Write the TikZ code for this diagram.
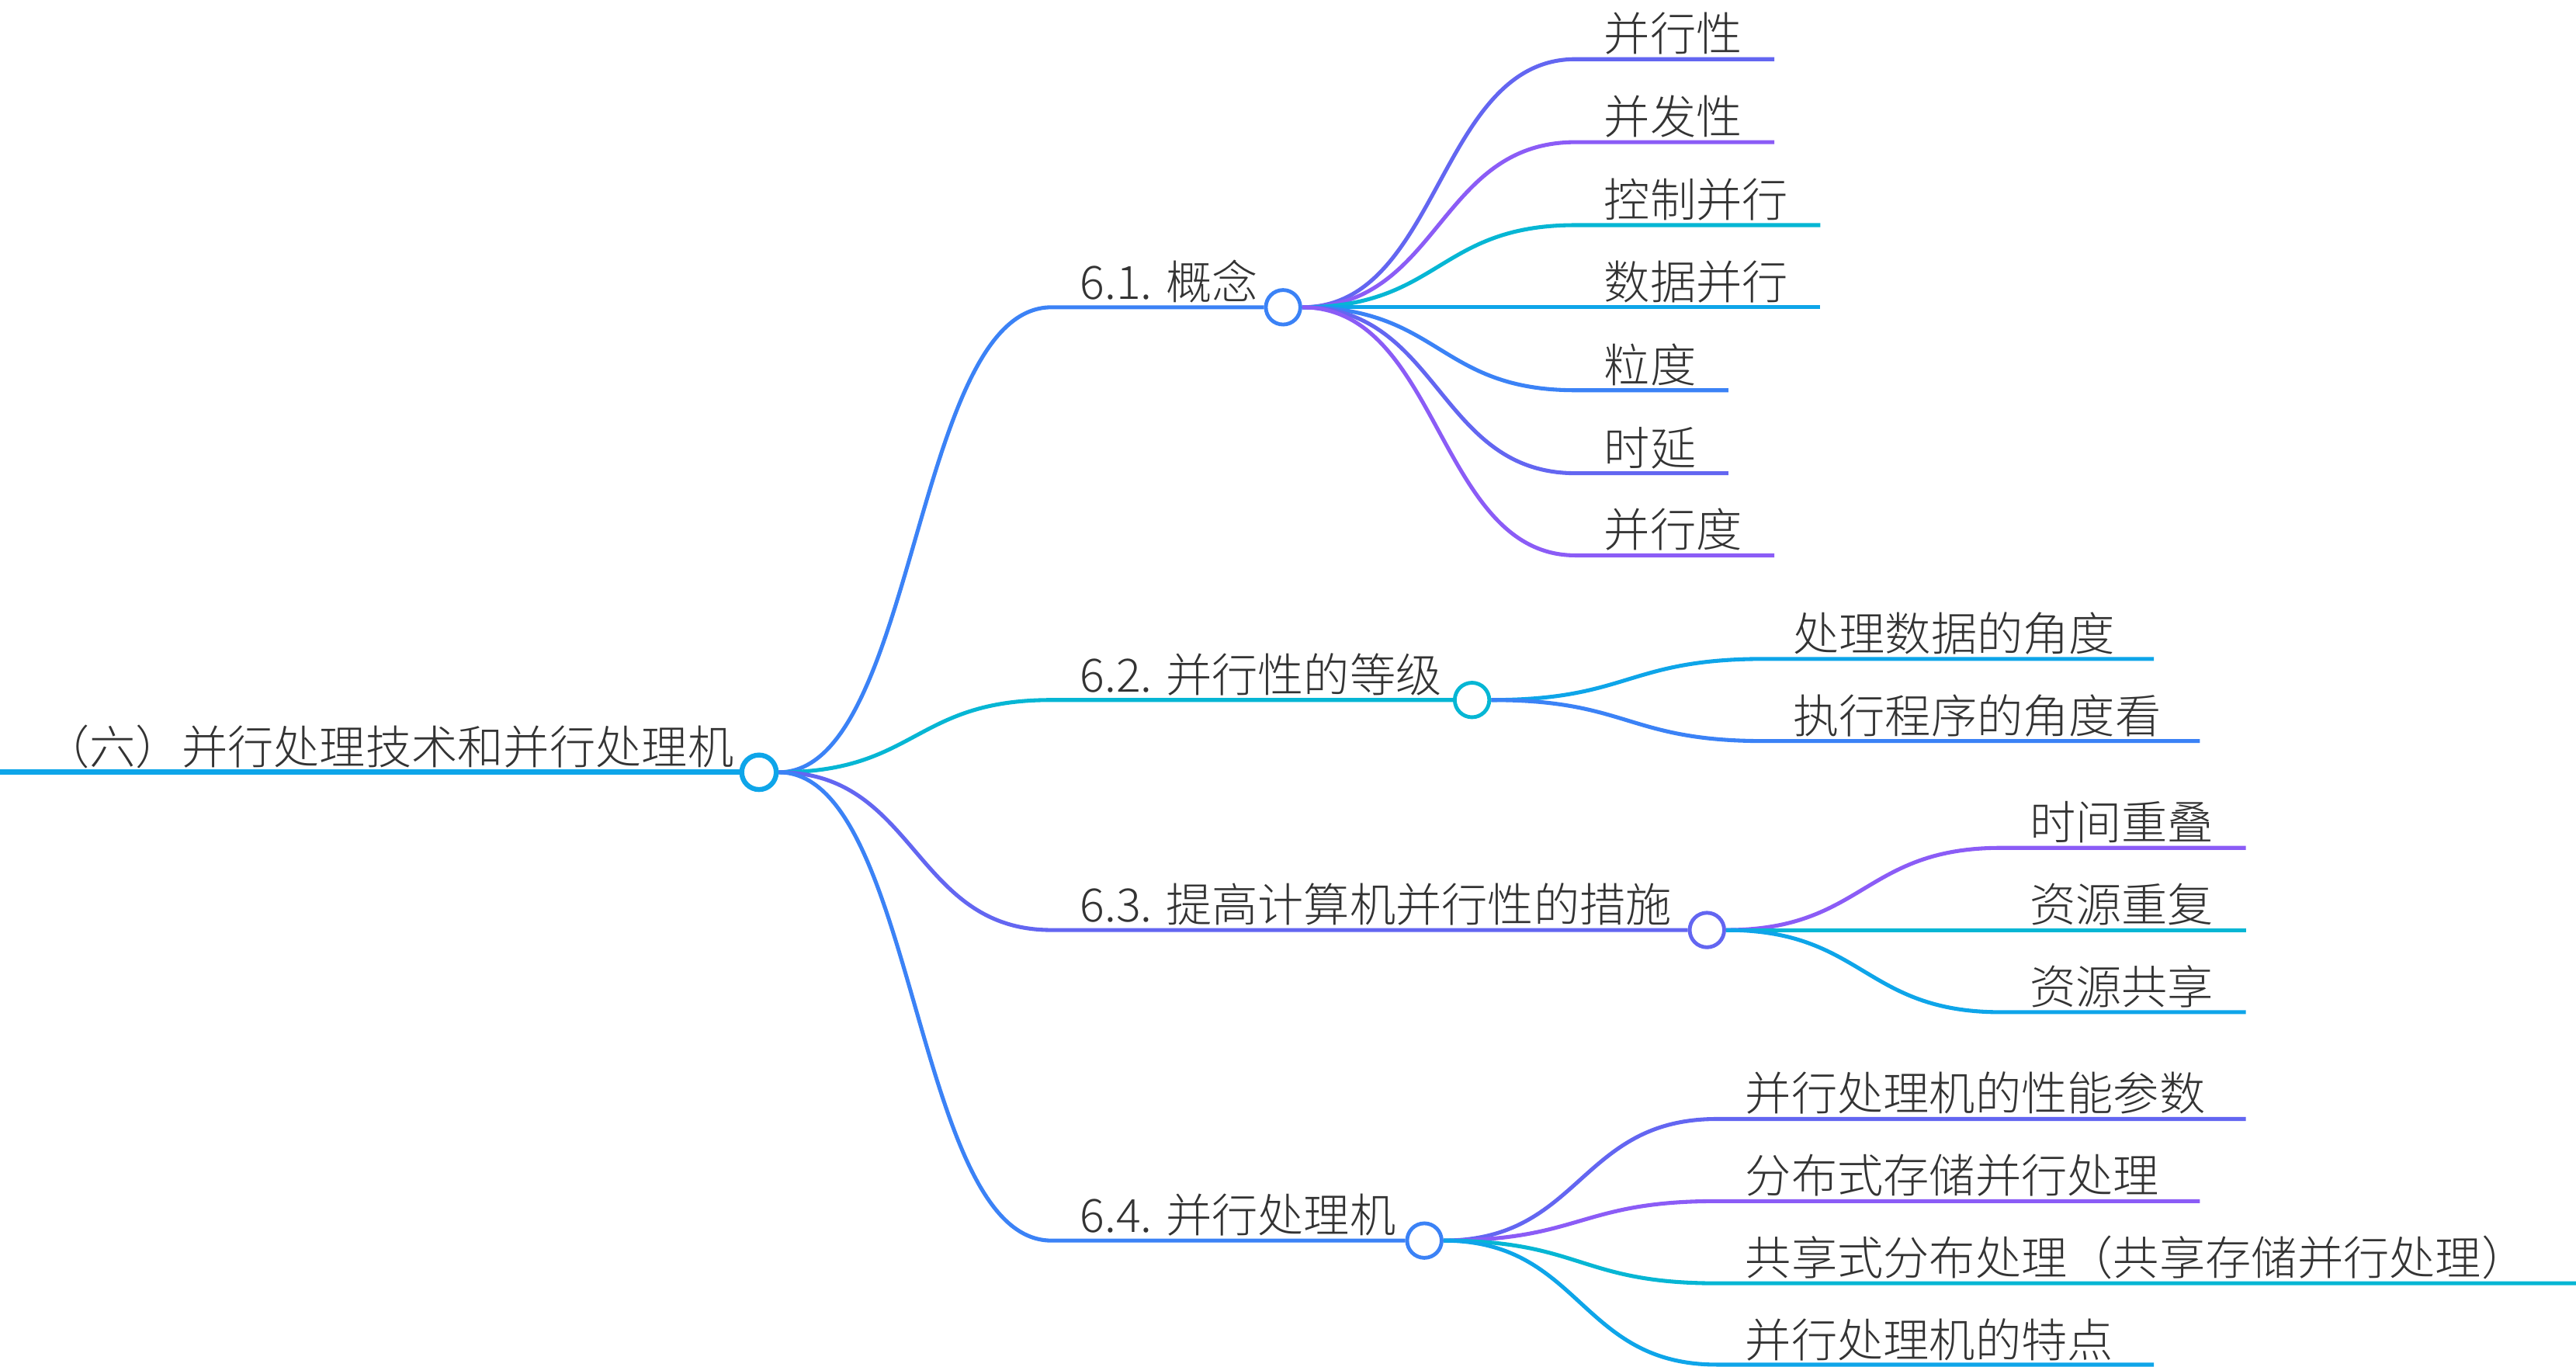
\documentclass[tikz,border=0pt]{standalone}
\usepackage{fontspec}
\setmainfont{Noto Sans CJK SC Light}
\definecolor{txt}{HTML}{333333}
\definecolor{sky}{HTML}{0EA5E9}
\definecolor{cyn}{HTML}{06B6D4}
\definecolor{blu}{HTML}{3B82F6}
\definecolor{ind}{HTML}{6366F1}
\definecolor{pur}{HTML}{8B5CF6}
\begin{document}
\begin{tikzpicture}[x=0.5pt, y=-0.5pt,
    dot/.style={circle, fill=white, line width=1.15pt, minimum size=10.5pt, inner sep=0pt},
    lbl/.style={anchor=base west, inner sep=0pt, text=txt, font=\fontsize{14pt}{16pt}\selectfont},
    branch/.style={line width=1.2pt}]
        \useasboundingbox (0,0) rectangle (1568,831.5);
        % root
        \node[dot, draw=sky, line width=1.5pt] (root) at (462,470) {};
        \node[lbl, anchor=base east] (troot) at (447,465) {（六）并行处理技术和并行处理机};
        \coordinate (r0) at (0,470);
        \draw[sky, line width=1.6pt] (r0) -- (root.west);
        % first level
        \node[dot, draw=blu] (c61) at (781,187) {};
        \node[dot, draw=cyn] (c62) at (896,426) {};
        \node[dot, draw=ind] (c63) at (1039,566) {};
        \node[dot, draw=blu] (c64) at (867,755) {};
        \node[lbl] (t61) at (657,182) {6.1. 概念};
        \node[lbl] (t62) at (657,421) {6.2. 并行性的等级};
        \node[lbl] (t63) at (657,561) {6.3. 提高计算机并行性的措施};
        \node[lbl] (t64) at (657,750) {6.4. 并行处理机};
        \coordinate (s61) at (640,187);
        \coordinate (s62) at (640,426);
        \coordinate (s63) at (640,566);
        \coordinate (s64) at (640,755);
        \draw[branch, blu] (root.east) .. controls +(84,0) and +(-84,0) .. (s61) -- (c61.west);
        \draw[branch, cyn] (root.east) .. controls +(84,0) and +(-84,0) .. (s62) -- (c62.west);
        \draw[branch, ind] (root.east) .. controls +(84,0) and +(-84,0) .. (s63) -- (c63.west);
        \draw[branch, blu] (root.east) .. controls +(84,0) and +(-84,0) .. (s64) -- (c64.west);
        % 6.1
        \node[lbl] (a1) at (976,31) {并行性};
        \node[lbl] (a2) at (976,81.5) {并发性};
        \node[lbl] (a3) at (976,132) {控制并行};
        \node[lbl] (a4) at (976,182) {数据并行};
        \node[lbl] (a5) at (976,232.5) {粒度};
        \node[lbl] (a6) at (976,283) {时延};
        \node[lbl] (a7) at (976,333) {并行度};
        \coordinate (a1s) at (959,36);    \coordinate (a1e) at (1080,36);
        \coordinate (a2s) at (959,86.5);  \coordinate (a2e) at (1080,86.5);
        \coordinate (a3s) at (959,137);   \coordinate (a3e) at (1108,137);
        \coordinate (a4s) at (959,187);   \coordinate (a4e) at (1108,187);
        \coordinate (a5s) at (959,237.5); \coordinate (a5e) at (1052,237.5);
        \coordinate (a6s) at (959,288);   \coordinate (a6e) at (1052,288);
        \coordinate (a7s) at (959,338);   \coordinate (a7e) at (1080,338);
        \draw[branch, ind] (c61.east) .. controls +(84,0) and +(-84,0) .. (a1s) -- (a1e);
        \draw[branch, pur] (c61.east) .. controls +(84,0) and +(-84,0) .. (a2s) -- (a2e);
        \draw[branch, cyn] (c61.east) .. controls +(84,0) and +(-84,0) .. (a3s) -- (a3e);
        \draw[branch, sky] (c61.east) -- (a4s) -- (a4e);
        \draw[branch, blu] (c61.east) .. controls +(84,0) and +(-84,0) .. (a5s) -- (a5e);
        \draw[branch, ind] (c61.east) .. controls +(84,0) and +(-84,0) .. (a6s) -- (a6e);
        \draw[branch, pur] (c61.east) .. controls +(84,0) and +(-84,0) .. (a7s) -- (a7e);
        % 6.2
        \node[lbl] (b1) at (1091,396) {处理数据的角度};
        \node[lbl] (b2) at (1091,446) {执行程序的角度看};
        \coordinate (b1s) at (1074,401); \coordinate (b1e) at (1311,401);
        \coordinate (b2s) at (1074,451); \coordinate (b2e) at (1339,451);
        \draw[branch, sky] (c62.east) .. controls +(84,0) and +(-84,0) .. (b1s) -- (b1e);
        \draw[branch, blu] (c62.east) .. controls +(84,0) and +(-84,0) .. (b2s) -- (b2e);
        % 6.3
        \node[lbl] (d1) at (1235,511) {时间重叠};
        \node[lbl] (d2) at (1235,561) {资源重复};
        \node[lbl] (d3) at (1235,611) {资源共享};
        \coordinate (d1s) at (1218,516); \coordinate (d1e) at (1367,516);
        \coordinate (d2s) at (1218,566); \coordinate (d2e) at (1367,566);
        \coordinate (d3s) at (1218,616); \coordinate (d3e) at (1367,616);
        \draw[branch, pur] (c63.east) .. controls +(84,0) and +(-84,0) .. (d1s) -- (d1e);
        \draw[branch, cyn] (c63.east) -- (d2s) -- (d2e);
        \draw[branch, sky] (c63.east) .. controls +(84,0) and +(-84,0) .. (d3s) -- (d3e);
        % 6.4
        \node[lbl] (f1) at (1062,676) {并行处理机的性能参数};
        \node[lbl] (f2) at (1062,726) {分布式存储并行处理};
        \node[lbl] (f3) at (1062,776) {共享式分布处理（共享存储并行处理）};
        \node[lbl] (f4) at (1062,826) {并行处理机的特点};
        \coordinate (f1s) at (1045,681); \coordinate (f1e) at (1367,681);
        \coordinate (f2s) at (1045,731); \coordinate (f2e) at (1339,731);
        \coordinate (f3s) at (1045,781); \coordinate (f3e) at (1570,781);
        \coordinate (f4s) at (1045,830.5); \coordinate (f4e) at (1311,830.5);
        \draw[branch, ind] (c64.east) .. controls +(84,0) and +(-84,0) .. (f1s) -- (f1e);
        \draw[branch, pur] (c64.east) .. controls +(84,0) and +(-84,0) .. (f2s) -- (f2e);
        \draw[branch, cyn] (c64.east) .. controls +(84,0) and +(-84,0) .. (f3s) -- (f3e);
        \draw[branch, sky] (c64.east) .. controls +(84,0) and +(-84,0) .. (f4s) -- (f4e);
    \end{tikzpicture}
\end{document}
